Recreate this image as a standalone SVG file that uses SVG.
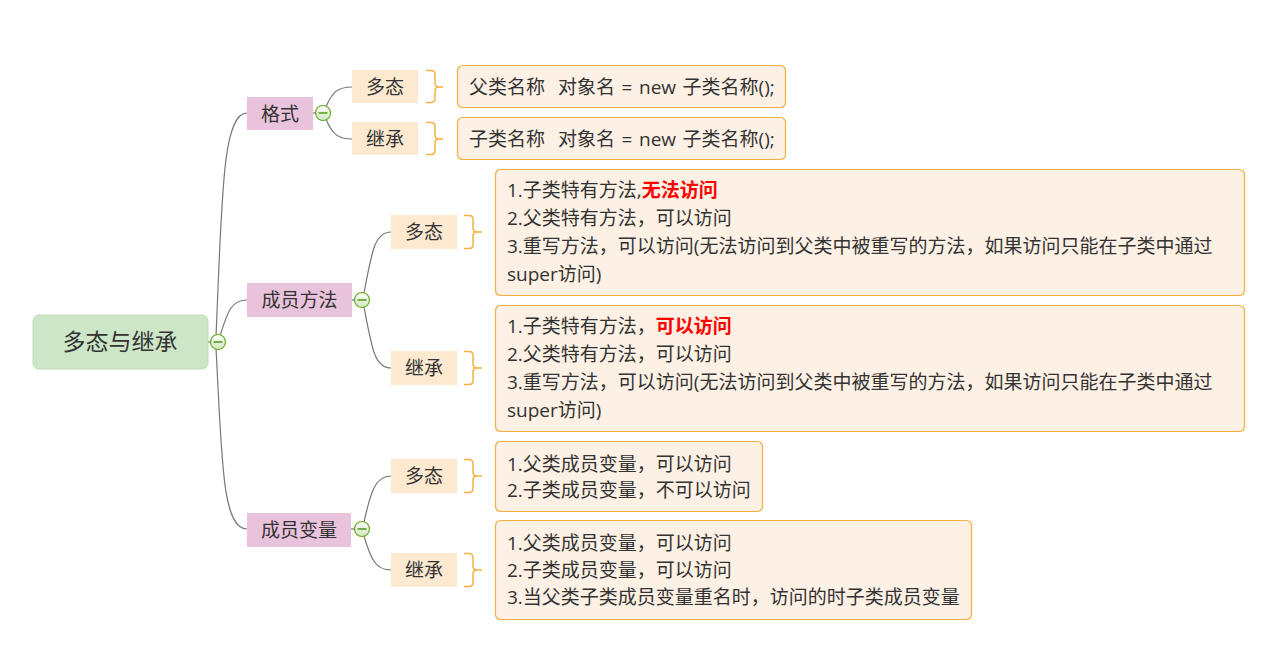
<svg xmlns="http://www.w3.org/2000/svg" width="1272" height="653" viewBox="0 0 1272 653">
<defs>
<linearGradient id="cg" x1="0" y1="0" x2="0" y2="1">
<stop offset="0" stop-color="#ffffff"/>
<stop offset="1" stop-color="#cfe6c0"/>
</linearGradient>
<style>
text{font-family:"Open Sans","Noto Sans CJK SC",sans-serif;fill:#333;font-size:19px}
.root{fill:#cde6c7;stroke:#bfdcb8;stroke-width:1}
.l1{fill:#e9c3db}
.l2{fill:#fde9d0}
.box{fill:#fdf0e4;stroke:#f5b042;stroke-width:1.2}
.br{fill:none;stroke:#f5b042;stroke-width:1.5}
.con path{fill:none;stroke:#777;stroke-width:1.2}
.cc{fill:url(#cg);stroke:#66aa22;stroke-width:1.2}
.cm{stroke:#4d9a10;stroke-width:1.5}
.mid{text-anchor:middle}
.red{fill:#ff0000;font-weight:bold}
.ws{word-spacing:1.6px}
</style>
</defs>
<rect width="1272" height="653" fill="#ffffff"/>

<g id="connectors" class="con">
<path d="M208,342 H211"/>
<path d="M216,336 C222,200 222,113 247,113"/>
<path d="M220,336 C228,310 232,300 247,300"/>
<path d="M216,348 C222,460 222,529 247,529"/>
<path d="M313,113 H316"/>
<path d="M326,107 C332,92 338,87 352,87"/>
<path d="M326,119 C332,134 338,139 352,139"/>
<path d="M352,300 H355"/>
<path d="M364,293 C372,250 375,232 391,232"/>
<path d="M364,307 C372,350 375,368 391,368"/>
<path d="M351,529 H355"/>
<path d="M364,522 C371,490 376,476 391,476"/>
<path d="M364,536 C371,560 376,570 391,570"/>
</g>

<g id="root">
<rect class="root" x="33" y="315" width="175" height="54" rx="6"/>
<text class="mid" x="120" y="350" style="font-size:23px">多态与继承</text>
<circle class="cc" cx="218" cy="342" r="7.5"/>
<line class="cm" x1="213.5" y1="342" x2="222.5" y2="342"/>
</g>

<g id="geshi">
<rect class="l1" x="247" y="97" width="66" height="33"/>
<text class="mid" x="280" y="120.5">格式</text>
<circle class="cc" cx="323" cy="113" r="7.5"/>
<line class="cm" x1="318.5" y1="113" x2="327.5" y2="113"/>
</g>

<g id="chengyuanfangfa">
<rect class="l1" x="247" y="283" width="105" height="34"/>
<text class="mid" x="299.5" y="306.5">成员方法</text>
<circle class="cc" cx="362" cy="300" r="7.5"/>
<line class="cm" x1="357.5" y1="300" x2="366.5" y2="300"/>
</g>

<g id="chengyuanbianliang">
<rect class="l1" x="247" y="513" width="104" height="34"/>
<text class="mid" x="299" y="536.5">成员变量</text>
<circle class="cc" cx="362" cy="529" r="7.5"/>
<line class="cm" x1="357.5" y1="529" x2="366.5" y2="529"/>
</g>

<g id="geshi-duotai">
<rect class="l2" x="352" y="70" width="66" height="33"/>
<text class="mid" x="385" y="93.5">多态</text>
<path class="br" d="M426,70.5 H431 Q435,70.5 435,74.5 V83 Q435,87 439,87 H443 M439,87 Q435,87 435,91 V98.5 Q435,102.5 431,102.5 H426"/>
</g>
<g id="geshi-duotai-note">
<rect class="box" x="457.5" y="65.5" width="328" height="42" rx="5"/>
<text class="ws" x="469" y="93.5" xml:space="preserve">父类名称  对象名 = new 子类名称();</text>
</g>

<g id="geshi-jicheng">
<rect class="l2" x="352" y="122" width="66" height="33"/>
<text class="mid" x="385" y="145.5">继承</text>
<path class="br" d="M426,122.5 H431 Q435,122.5 435,126.5 V135 Q435,139 439,139 H443 M439,139 Q435,139 435,143 V150.5 Q435,154.5 431,154.5 H426"/>
</g>
<g id="geshi-jicheng-note">
<rect class="box" x="457.5" y="117.5" width="328" height="42" rx="5"/>
<text class="ws" x="469" y="145.5" xml:space="preserve">子类名称  对象名 = new 子类名称();</text>
</g>

<g id="fangfa-duotai">
<rect class="l2" x="391" y="215" width="66" height="34"/>
<text class="mid" x="424" y="238.5">多态</text>
<path class="br" d="M464,215.5 H469 Q473,215.5 473,219.5 V228 Q473,232 477,232 H482 M477,232 Q473,232 473,236 V244.5 Q473,248.5 469,248.5 H464"/>
</g>
<g id="fangfa-duotai-note">
<rect class="box" x="495.5" y="169.5" width="749" height="126" rx="5"/>
<text x="507" y="197">1.子类特有方法,<tspan class="red">无法访问</tspan></text>
<text x="507" y="225">2.父类特有方法，可以访问</text>
<text x="507" y="253">3.重写方法，可以访问(无法访问到父类中被重写的方法，如果访问只能在子类中通过</text>
<text x="507" y="281">super访问)</text>
</g>

<g id="fangfa-jicheng">
<rect class="l2" x="391" y="351" width="66" height="34"/>
<text class="mid" x="424" y="374.5">继承</text>
<path class="br" d="M464,351.5 H469 Q473,351.5 473,355.5 V364 Q473,368 477,368 H482 M477,368 Q473,368 473,372 V380.5 Q473,384.5 469,384.5 H464"/>
</g>
<g id="fangfa-jicheng-note">
<rect class="box" x="495.5" y="305.5" width="749" height="126" rx="5"/>
<text x="507" y="333">1.子类特有方法，<tspan class="red">可以访问</tspan></text>
<text x="507" y="361">2.父类特有方法，可以访问</text>
<text x="507" y="389">3.重写方法，可以访问(无法访问到父类中被重写的方法，如果访问只能在子类中通过</text>
<text x="507" y="417">super访问)</text>
</g>

<g id="bianliang-duotai">
<rect class="l2" x="391" y="459" width="66" height="34"/>
<text class="mid" x="424" y="482.5">多态</text>
<path class="br" d="M464,459.5 H469 Q473,459.5 473,463.5 V472 Q473,476 477,476 H482 M477,476 Q473,476 473,480 V488.5 Q473,492.5 469,492.5 H464"/>
</g>
<g id="bianliang-duotai-note">
<rect class="box" x="495.5" y="441.5" width="267" height="70" rx="5"/>
<text x="507" y="470.5">1.父类成员变量，可以访问</text>
<text x="507" y="497">2.子类成员变量，不可以访问</text>
</g>

<g id="bianliang-jicheng">
<rect class="l2" x="391" y="553" width="66" height="34"/>
<text class="mid" x="424" y="576.5">继承</text>
<path class="br" d="M464,553.5 H469 Q473,553.5 473,557.5 V566 Q473,570 477,570 H482 M477,570 Q473,570 473,574 V582.5 Q473,586.5 469,586.5 H464"/>
</g>
<g id="bianliang-jicheng-note">
<rect class="box" x="495.5" y="520.5" width="476" height="99" rx="5"/>
<text x="507" y="549.5">1.父类成员变量，可以访问</text>
<text x="507" y="577">2.子类成员变量，可以访问</text>
<text x="507" y="604">3.当父类子类成员变量重名时，访问的时子类成员变量</text>
</g>
</svg>
